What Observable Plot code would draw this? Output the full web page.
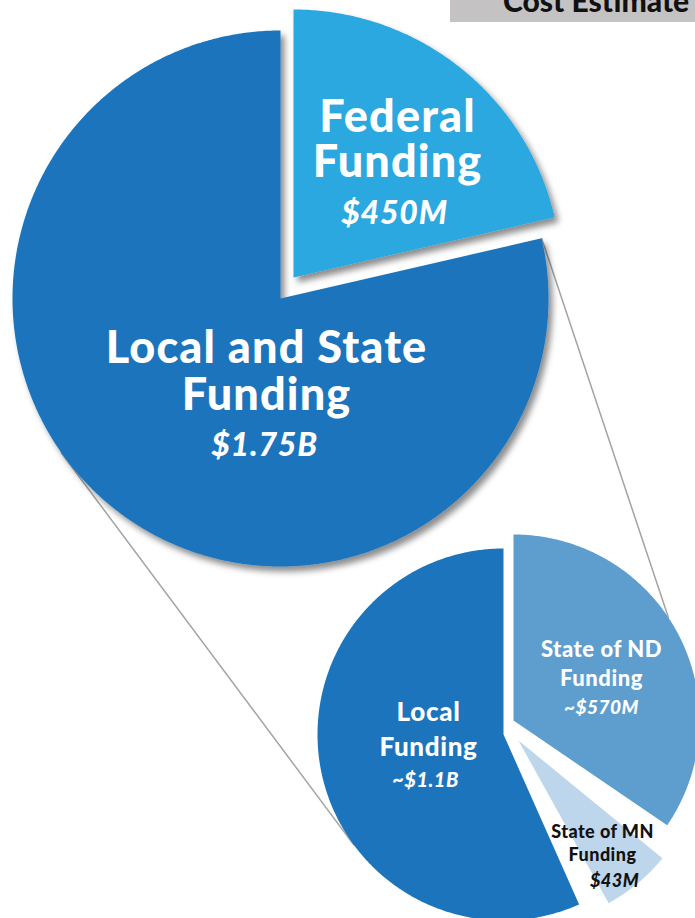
<!DOCTYPE html>
<html>
<head>
<meta charset="utf-8">
<script src="https://cdn.jsdelivr.net/npm/d3@7"></script>
<script src="https://cdn.jsdelivr.net/npm/@observablehq/plot@0.6"></script>
<style>
  html, body { margin: 0; padding: 0; background: #fff; }
  #wrap { position: relative; width: 695px; height: 918px; overflow: hidden; }
  #banner { position: absolute; left: 450px; top: 0; width: 245px; height: 21.5px; background: #c4c2c3; overflow: hidden; }
  #banner span { position: absolute; left: 53px; top: -17.6px; font: 900 30px Lato, sans-serif; color: #111; white-space: nowrap; }
  #chart svg text { letter-spacing: 0.025em; }
</style>
</head>
<body>
<div id="wrap">
  <div id="chart"></div>
  <div id="banner"><span>Cost Estimate</span></div>
</div>
<script>
// ---------------- DATA ----------------
// Overall funding (big pie), clockwise from 12 o'clock
const overallSources = ["Federal", "Local and State"];
const overallValues = [450, 1750];                 // $ millions
const overallValueLabels = ["$450M", "$1.75B"];
const overallDrawnDeg = [77, 283];                 // slice angles as drawn in the picture

// Break-down of local and state funding (small pie), clockwise from 12 o'clock
const localStateSources = ["State of ND", "State of MN", "Local"];
const localStateValues = [570, 43, 1100];          // $ millions (approx.)
const localStateValueLabels = ["~$570M", "$43M", "~$1.1B"];
const localStateDrawnDeg = [124.3, 21.7, 204];     // slice angles as drawn (not to scale)

const bannerTitle = "Cost Estimate";

// ---------------- LAYOUT / STYLE ----------------
const palette = {
  "Federal": "#29a8df",
  "Local and State": "#1c75bc",
  "State of ND": "#5d9ece",
  "State of MN": "#bdd6ec",
  "Local": "#1c75bc"
};
const pies = {
  big:   {cx: 280, cy: 298, r: 268},
  small: {cx: 503, cy: 734, r: 186}
};
const explode = {"Federal": [13, -21], "State of ND": [10, -14], "State of MN": [15, 6]};
const labelStyle = {
  "Federal":         {dx: 104, dy: -146, size: 45, lead: 45,   vsize: 32, vgap: 47, vdx: -3, color: "#fff"},
  "Local and State": {dx: -14, dy: 64,   size: 45, lead: 47,   vsize: 32, vgap: 46, vdx: -2, color: "#fff"},
  "Local":           {dx: -75, dy: -14,  size: 26, lead: 35,   vsize: 20, vgap: 31, vdx: -3, color: "#fff"},
  "State of ND":     {dx: 88,  dy: -64,  size: 22, lead: 29,   vsize: 19, vgap: 28, vdx: 0,  color: "#fff"},
  "State of MN":     {dx: 84,  dy: 97,   size: 18, lead: 23.5, vsize: 18, vgap: 26, vdx: 12, color: "#111"}
};
const connectors = [
  {from: "Local and State", fromDeg: 77,  to: "State of ND", toDeg: 56.4},
  {from: "Local and State", fromDeg: 235, to: "Local",       toDeg: 233.5}
];

// ---------------- GEOMETRY ----------------
const rad = d => d * Math.PI / 180;
const corners = {};
function buildPie(names, degs, pie) {
  const gap = degs.length > 1 ? Math.max(0, (360 - d3.sum(degs)) / (degs.length - 1)) : 0;
  const pts = [];
  let a = 0;
  names.forEach((n, i) => {
    const a0 = a, a1 = a + degs[i];
    const [ox, oy] = explode[n] || [0, 0];
    const cx = pie.cx + ox, cy = pie.cy + oy;
    corners[n] = {cx, cy, r: pie.r};
    pts.push({slice: n, x: cx, y: cy});
    const steps = Math.ceil((a1 - a0) / 0.5);
    for (let k = 0; k <= steps; k++) {
      const t = rad(a0 + (a1 - a0) * k / steps);
      pts.push({slice: n, x: cx + pie.r * Math.sin(t), y: cy - pie.r * Math.cos(t)});
    }
    pts.push({slice: n, x: cx, y: cy});
    a = a1 + gap;
  });
  return pts;
}
const bigPts = buildPie(overallSources, overallDrawnDeg, pies.big);
const smallPts = buildPie(localStateSources, localStateDrawnDeg, pies.small);

const onRim = (name, deg) => {
  const c = corners[name];
  return [c.cx + c.r * Math.sin(rad(deg)), c.cy - c.r * Math.cos(rad(deg))];
};
const linkData = connectors.map(c => {
  const [x1, y1] = onRim(c.from, c.fromDeg);
  const [x2, y2] = onRim(c.to, c.toDeg);
  return {x1, y1, x2, y2};
});

// labels
const nameRows = [], valueRows = [];
function addLabels(names, valueLabels) {
  names.forEach((n, i) => {
    const s = labelStyle[n], c = corners[n];
    const lines = [n, "Funding"];
    const x = c.cx + s.dx, y0 = c.cy + s.dy;
    lines.forEach((line, j) => nameRows.push({text: line, x, y: y0 + j * s.lead, size: s.size, color: s.color}));
    valueRows.push({text: valueLabels[i], x: x + s.vdx, y: y0 + (lines.length - 1) * s.lead + s.vgap, size: s.vsize, color: s.color});
  });
}
addLabels(overallSources, overallValueLabels);
addLabels(localStateSources, localStateValueLabels);

// ---------------- CHART ----------------
const chart = Plot.plot({
  width: 695,
  height: 918,
  margin: 0,
  x: {domain: [0, 695], range: [0, 695], axis: null},
  y: {domain: [0, 918], range: [0, 918], axis: null},
  color: {type: "identity"},
  style: {background: "transparent"},
  marks: [
    Plot.link(linkData, {x1: "x1", y1: "y1", x2: "x2", y2: "y2", stroke: "#a3a3a3", strokeWidth: 1.5}),
    Plot.line(bigPts, {x: "x", y: "y", z: "slice", fill: d => palette[d.slice], stroke: "none"}),
    Plot.line(smallPts, {x: "x", y: "y", z: "slice", fill: d => palette[d.slice], stroke: "none"}),
    Plot.text(nameRows, {x: "x", y: "y", text: "text", fontSize: "size", fill: "color",
      fontFamily: "Lato, sans-serif", fontWeight: 900, textAnchor: "middle", lineAnchor: "bottom"}),
    Plot.text(valueRows, {x: "x", y: "y", text: "text", fontSize: "size", fill: "color",
      fontFamily: "Lato, sans-serif", fontWeight: 900, fontStyle: "italic", textAnchor: "middle", lineAnchor: "bottom"})
  ]
});

// soft drop shadow under the big pie
const svg = d3.select(chart);
const filter = svg.insert("defs", ":first-child").append("filter")
  .attr("id", "pieShadow").attr("x", "-10%").attr("y", "-10%").attr("width", "130%").attr("height", "130%");
filter.append("feDropShadow").attr("dx", 4).attr("dy", 5).attr("stdDeviation", 3)
  .attr("flood-color", "#000").attr("flood-opacity", 0.45);
svg.selectAll('g[aria-label="line"]').filter((d, i) => i === 0).attr("filter", "url(#pieShadow)");

document.getElementById("chart").appendChild(chart);
document.querySelector("#banner span").textContent = bannerTitle;
</script>
</body>
</html>
